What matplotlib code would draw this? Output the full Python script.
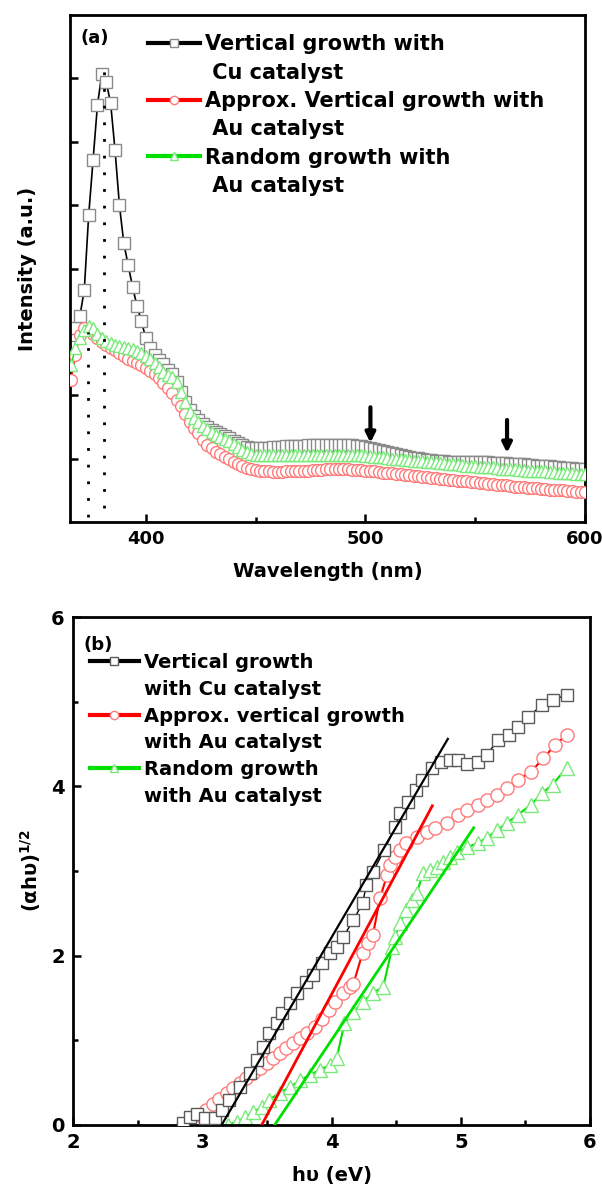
import numpy as np
import matplotlib
matplotlib.use("Agg")
import matplotlib.pyplot as plt
from matplotlib.lines import Line2D
from matplotlib.ticker import MultipleLocator

plt.rcParams["font.family"] = ["DejaVu Sans"]
plt.rcParams["font.weight"] = "bold"
plt.rcParams["axes.labelweight"] = "bold"

# -------------------------
# (a) PL spectra
# -------------------------
wl = np.arange(366, 601, 2)

cu_int = [
    2.95, 3.06, 3.25, 3.66, 4.84, 5.71, 6.58, 7.07, 6.94, 6.61,
    5.87, 5.00, 4.40, 4.05, 3.71, 3.41, 3.17, 2.90, 2.74, 2.63,
    2.56, 2.49, 2.40, 2.33, 2.21, 2.05, 1.89, 1.77, 1.67, 1.61,
    1.55, 1.50, 1.45, 1.42, 1.39, 1.36, 1.32, 1.28, 1.25, 1.21,
    1.18, 1.17, 1.17, 1.17, 1.17, 1.17, 1.18, 1.18, 1.18, 1.20,
    1.20, 1.20, 1.20, 1.20, 1.21, 1.21, 1.21, 1.21, 1.21, 1.21,
    1.21, 1.21, 1.21, 1.21, 1.21, 1.20, 1.20, 1.18, 1.17, 1.15,
    1.14, 1.12, 1.10, 1.09, 1.07, 1.06, 1.04, 1.03, 1.01, 1.01,
    0.99, 0.98, 0.98, 0.96, 0.96, 0.96, 0.95, 0.95, 0.95, 0.95,
    0.95, 0.95, 0.95, 0.95, 0.95, 0.95, 0.93, 0.93, 0.93, 0.93,
    0.92, 0.92, 0.91, 0.91, 0.90, 0.90, 0.89, 0.89, 0.88, 0.88,
    0.86, 0.86, 0.85, 0.85, 0.85, 0.84, 0.84, 0.83,
]
au_int = [
    2.24, 2.63, 2.95, 3.06, 3.03, 2.97, 2.90, 2.84, 2.79, 2.74,
    2.71, 2.67, 2.62, 2.57, 2.54, 2.51, 2.48, 2.43, 2.38, 2.33,
    2.27, 2.19, 2.11, 2.03, 1.92, 1.83, 1.70, 1.58, 1.48, 1.40,
    1.30, 1.22, 1.16, 1.11, 1.07, 1.03, 0.99, 0.95, 0.92, 0.89,
    0.85, 0.84, 0.82, 0.81, 0.80, 0.80, 0.79, 0.79, 0.79, 0.80,
    0.80, 0.80, 0.81, 0.81, 0.81, 0.82, 0.82, 0.82, 0.83, 0.83,
    0.83, 0.83, 0.83, 0.83, 0.82, 0.82, 0.82, 0.81, 0.80, 0.80,
    0.79, 0.78, 0.77, 0.77, 0.76, 0.75, 0.74, 0.74, 0.73, 0.72,
    0.71, 0.71, 0.70, 0.69, 0.68, 0.68, 0.67, 0.66, 0.65, 0.65,
    0.64, 0.63, 0.63, 0.62, 0.61, 0.60, 0.60, 0.59, 0.58, 0.58,
    0.57, 0.56, 0.56, 0.55, 0.54, 0.54, 0.53, 0.52, 0.52, 0.51,
    0.51, 0.50, 0.50, 0.49, 0.49, 0.48, 0.48, 0.47,
]
rnd_int = [
    2.48, 2.74, 2.90, 3.03, 3.09, 3.06, 2.97, 2.90, 2.85, 2.82,
    2.79, 2.78, 2.76, 2.74, 2.73, 2.70, 2.67, 2.62, 2.57, 2.51,
    2.44, 2.37, 2.32, 2.29, 2.21, 2.05, 1.89, 1.74, 1.64, 1.58,
    1.51, 1.47, 1.42, 1.37, 1.34, 1.31, 1.28, 1.23, 1.18, 1.14,
    1.10, 1.07, 1.06, 1.06, 1.06, 1.06, 1.06, 1.06, 1.06, 1.06,
    1.06, 1.06, 1.06, 1.06, 1.06, 1.06, 1.06, 1.06, 1.06, 1.06,
    1.06, 1.06, 1.06, 1.06, 1.06, 1.06, 1.06, 1.04, 1.04, 1.03,
    1.02, 1.02, 1.01, 1.00, 1.00, 0.99, 0.98, 0.98, 0.97, 0.97,
    0.96, 0.95, 0.95, 0.94, 0.93, 0.93, 0.92, 0.91, 0.91, 0.90,
    0.89, 0.89, 0.88, 0.87, 0.87, 0.86, 0.86, 0.85, 0.84, 0.84,
    0.83, 0.83, 0.82, 0.82, 0.81, 0.81, 0.80, 0.80, 0.80, 0.79,
    0.79, 0.78, 0.77, 0.77, 0.77, 0.76, 0.76, 0.76,
]

# dotted peak markers and arrows
peak_wl = [373.5, 381.0]
peak_lo = [0.08, 0.22]
peak_hi = [3.00, 7.32]
arrow_wl = [502.3, 564.5]
arrow_from = [1.81, 1.61]
arrow_to = [1.25, 1.09]

# -------------------------
# (b) Tauc plot
# -------------------------
cu_e = [2.85, 2.905, 2.96, 3.02, 3.10, 3.15, 3.21, 3.29, 3.37, 3.42,
        3.47, 3.52, 3.58, 3.62, 3.68, 3.73, 3.80, 3.86, 3.93, 3.99,
        4.04, 4.09, 4.17, 4.24, 4.27, 4.32, 4.41, 4.49, 4.53, 4.59,
        4.65, 4.70, 4.78, 4.85, 4.92, 4.98, 5.05, 5.13, 5.20, 5.29,
        5.37, 5.44, 5.52, 5.63, 5.71, 5.82]
cu_ah = [0.02, 0.09, 0.13, 0.08, 0.08, 0.18, 0.30, 0.45, 0.61, 0.77,
         0.92, 1.09, 1.20, 1.32, 1.44, 1.56, 1.69, 1.77, 1.91, 2.03,
         2.10, 2.22, 2.42, 2.62, 2.83, 2.99, 3.25, 3.52, 3.68, 3.81,
         3.96, 4.07, 4.22, 4.29, 4.31, 4.31, 4.26, 4.29, 4.37, 4.55,
         4.61, 4.70, 4.82, 4.96, 5.02, 5.08]

au_e = [2.85, 2.90, 2.94, 2.98, 3.03, 3.08, 3.13, 3.19, 3.24, 3.29,
        3.34, 3.39, 3.45, 3.50, 3.55, 3.60, 3.65, 3.70, 3.76, 3.81,
        3.87, 3.93, 3.98, 4.03, 4.09, 4.14, 4.17, 4.24, 4.28, 4.32,
        4.375, 4.43, 4.45, 4.49, 4.53, 4.58, 4.66, 4.74, 4.80, 4.89,
        4.98, 5.05, 5.13, 5.20, 5.28, 5.36, 5.44, 5.54, 5.64, 5.73, 5.82]
au_ah = [0.00, 0.03, 0.07, 0.12, 0.18, 0.25, 0.31, 0.38, 0.44, 0.50,
         0.56, 0.61, 0.67, 0.73, 0.79, 0.85, 0.91, 0.97, 1.03, 1.09,
         1.16, 1.25, 1.36, 1.45, 1.56, 1.63, 1.67, 2.03, 2.15, 2.24,
         2.68, 2.95, 3.07, 3.17, 3.25, 3.33, 3.40, 3.46, 3.51, 3.57,
         3.66, 3.72, 3.78, 3.84, 3.90, 3.98, 4.07, 4.17, 4.33, 4.49, 4.61]

rnd_e = [3.20, 3.27, 3.33, 3.39, 3.46, 3.52, 3.60, 3.68, 3.76, 3.83,
         3.91, 3.99, 4.04, 4.10, 4.17, 4.24, 4.32, 4.40, 4.47, 4.49,
         4.53, 4.58, 4.62, 4.66, 4.71, 4.76, 4.82, 4.86, 4.92, 4.97,
         5.05, 5.13, 5.20, 5.28, 5.36, 5.44, 5.54, 5.63, 5.71, 5.82]
rnd_ah = [0.00, 0.04, 0.09, 0.15, 0.21, 0.30, 0.38, 0.45, 0.53, 0.59,
          0.65, 0.71, 0.79, 1.20, 1.33, 1.45, 1.56, 1.63, 2.10, 2.22,
          2.39, 2.54, 2.66, 2.74, 2.98, 3.01, 3.05, 3.11, 3.17, 3.22,
          3.28, 3.33, 3.39, 3.48, 3.57, 3.66, 3.78, 3.92, 4.02, 4.22]

# linear fits (x-intercept = band gap)
cu_fit_e, cu_fit_ah = [3.15, 4.90], [0.0, 4.56]
au_fit_e, au_fit_ah = [3.46, 4.78], [0.0, 3.77]
rnd_fit_e, rnd_fit_ah = [3.56, 5.10], [0.0, 3.51]

GRAY_A = "#8a8a8a"
GRAY_B = "#5a5a5a"
RED_M = "#ff7a7a"
GREEN_M = "#7aea7a"
RED = "#ff0000"
GREEN = "#00e000"


def style_axes(ax, size):
    for s in ax.spines.values():
        s.set_linewidth(2.0)
    ax.tick_params(which="both", direction="in", width=1.8,
                   labelsize=size, pad=6)
    ax.tick_params(which="major", length=6)
    ax.tick_params(which="minor", length=3.5)


def make_legend(ax, colors, mecs, markers, labels, x, y, size):
    blank = Line2D([], [], color="none")
    handles = []
    for c, m, mk in zip(colors, mecs, markers):
        handles.append(Line2D([], [], color=c, lw=3, marker=mk, ms=6,
                              mfc="white", mec=m, mew=1.0))
        handles.append(blank)
    leg = ax.legend(handles, labels, loc="upper left", bbox_to_anchor=(x, y),
                    frameon=False, handlelength=2.5, handletextpad=0.25,
                    labelspacing=0.4, borderaxespad=0, borderpad=0,
                    prop={"size": size, "weight": "bold"})
    return leg


fig = plt.figure(figsize=(6.02, 11.93), dpi=100)

# ---- panel (a)
ax1 = fig.add_axes([70 / 602, 1 - 522 / 1193, 515 / 602, 507 / 1193])
ax1.plot(wl, cu_int, color="black", lw=1.2, marker="s", ms=8.5, mfc="white",
         mec=GRAY_A, mew=1.0, zorder=2)
ax1.plot(wl, au_int, color=RED, lw=1.0, marker="o", ms=8.5, mfc="white",
         mec=RED_M, mew=1.0, zorder=3)
ax1.plot(wl, rnd_int, color=GREEN, lw=1.0, marker="^", ms=9, mfc="white",
         mec=GREEN_M, mew=1.0, zorder=4)
ax1.vlines(peak_wl, peak_lo, peak_hi, colors="black", lw=2.0,
           linestyles=(0, (1, 5)), zorder=5)
for xw, y0, y1 in zip(arrow_wl, arrow_from, arrow_to):
    ax1.annotate("", xy=(xw, y1), xytext=(xw, y0),
                 arrowprops=dict(arrowstyle="-|>", color="black", lw=3,
                                 mutation_scale=14, shrinkA=0, shrinkB=0),
                 zorder=6)
ax1.set_xlim(365.5, 600)
ax1.set_ylim(0, 8)
ax1.set_xticks([400, 500, 600])
ax1.xaxis.set_minor_locator(MultipleLocator(50))
ax1.set_yticks(range(1, 8))
ax1.set_yticklabels([])
style_axes(ax1, 13)
ax1.set_xlabel("Wavelength (nm)", fontsize=14, labelpad=10)
ax1.set_ylabel("Intensity (a.u.)", fontsize=14, labelpad=18)
ax1.text(0.02, 0.955, "(a)", transform=ax1.transAxes, fontsize=13,
         va="center", ha="left")
make_legend(ax1, ["black", RED, GREEN], [GRAY_A, RED_M, GREEN_M],
            ["s", "o", "^"],
            ["Vertical growth with", " Cu catalyst",
             "Approx. Vertical growth with", " Au catalyst",
             "Random growth with", " Au catalyst"],
            0.151, 0.962, 15)

# ---- panel (b)
ax2 = fig.add_axes([73 / 602, 1 - 1125 / 1193, 517 / 602, 508 / 1193])
ax2.plot(cu_e, cu_ah, color="black", lw=1.0, marker="s", ms=9, mfc="white",
         mec=GRAY_B, mew=1.0, zorder=3)
ax2.plot(au_e, au_ah, color=RED, lw=1.5, marker="o", ms=9.5, mfc="white",
         mec=RED_M, mew=1.0, zorder=2)
ax2.plot(rnd_e, rnd_ah, color=GREEN, lw=1.5, marker="^", ms=10, mfc="white",
         mec=GREEN_M, mew=1.0, zorder=2)
ax2.plot(cu_fit_e, cu_fit_ah, color="black", lw=1.6, zorder=5)
ax2.plot(au_fit_e, au_fit_ah, color=RED, lw=2.0, zorder=5)
ax2.plot(rnd_fit_e, rnd_fit_ah, color=GREEN, lw=2.0, zorder=5)
ax2.set_xlim(2, 6)
ax2.set_ylim(0, 6)
ax2.set_xticks([2, 3, 4, 5, 6])
ax2.set_yticks([0, 2, 4, 6])
ax2.xaxis.set_minor_locator(MultipleLocator(0.5))
ax2.yaxis.set_minor_locator(MultipleLocator(1))
style_axes(ax2, 14)
ax2.set_xlabel("h\u03c5 (eV)", fontsize=14, labelpad=10)
ax2.set_ylabel("(\u03b1h\u03c5)$^{\\mathbf{1/2}}$", fontsize=14, labelpad=6)
ax2.text(0.02, 0.945, "(b)", transform=ax2.transAxes, fontsize=13,
         va="center", ha="left")
make_legend(ax2, ["black", RED, GREEN], [GRAY_B, RED_M, GREEN_M],
            ["s", "o", "^"],
            ["Vertical growth", "with Cu catalyst",
             "Approx. vertical growth", "with Au catalyst",
             "Random growth", "with Au catalyst"],
            0.033, 0.929, 14)

fig.savefig("out.png", dpi=100)
